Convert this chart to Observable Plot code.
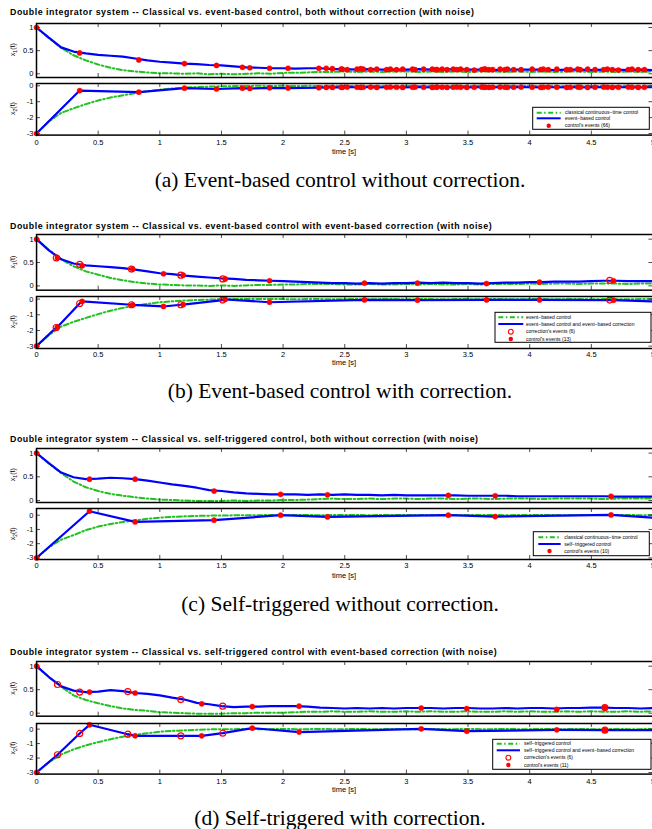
<!DOCTYPE html>
<html><head><meta charset="utf-8">
<script src="https://cdn.jsdelivr.net/npm/d3@7"></script>
<script src="https://cdn.jsdelivr.net/npm/@observablehq/plot@0.6"></script>
<style>
html,body{margin:0;padding:0;background:#fff;overflow:hidden;}
#fig{position:relative;width:652px;height:829px;overflow:hidden;background:#fff;}
</style></head>
<body><div id="fig"></div>
<script>
// ---------------- shared ----------------
const T = [0,0.1,0.2,0.3,0.4,0.5,0.6,0.7,0.8,0.9,1,1.1,1.2,1.3,1.4,1.5,1.6,1.7,1.8,1.9,2,2.1,2.2,2.3,2.4,2.5,2.6,2.7,2.8,2.9,3,3.1,3.2,3.3,3.4,3.5,3.6,3.7,3.8,3.9,4,4.1,4.2,4.3,4.4,4.5,4.6,4.7,4.8,4.9,5];
const xTicks = [0,0.5,1,1.5,2,2.5,3,3.5,4,4.5,5];
const x1Ticks = [0,0.5,1];
const x2Ticks = [-3,-2,-1,0];
const xAxisLabel = "time [s]";

// ---------------- (a) ----------------
const aTitle = "Double integrator system -- Classical vs. event-based control, both without correction (with noise)";
const aCaption = "(a) Event-based control without correction.";
const aLegend = ["classical continuous\u2212time control","event\u2212based control","control's events (66)"];
const aX1Classic = [1.00,0.77,0.56,0.40,0.29,0.20,0.13,0.08,0.05,0.03, 0.01,0.01,0.00,0.01,-0.01,0.00,-0.01,0.00,0.01,0.00, 0.02,0.02,0.03,0.04,0.04,0.05,0.04,0.05,0.04,0.05, 0.05,0.04,0.05,0.04,0.05,0.04,0.05,0.05,0.04,0.05, 0.04,0.05,0.04,0.05,0.05,0.04,0.05,0.04,0.05,0.04, 0.05];
const aX1Event = [1.00,0.78,0.57,0.48,0.44,0.41,0.39,0.37,0.33,0.29, 0.26,0.24,0.22,0.21,0.19,0.18,0.16,0.14,0.13,0.12, 0.12,0.11,0.12,0.12,0.10,0.10,0.09,0.10,0.09,0.09, 0.09,0.10,0.09,0.09,0.10,0.09,0.09,0.08,0.09,0.09, 0.09,0.09,0.08,0.09,0.09,0.08,0.09,0.09,0.08,0.09, 0.08];
const aX2Classic = [-3.00,-2.25,-1.70,-1.42,-1.15,-0.92,-0.74,-0.60,-0.47,-0.35, -0.25,-0.17,-0.12,-0.08,-0.05,-0.03,-0.02,-0.01,0.00,-0.01, 0.00,-0.01,0.00,-0.01,0.00,-0.01,0.00,-0.01,0.00,-0.01, 0.00,-0.01,0.00,-0.01,0.00,-0.01,0.00,-0.01,0.00,-0.01, 0.00,-0.01,0.00,-0.01,0.00,-0.01,0.00,-0.01,0.00,-0.01, 0.00];
const aEvT = [0,0.35,0.83,1.2,1.46,1.67,1.73,1.89,2.04,2.29,2.35, 2.40,2.47,2.48,2.52,2.60,2.63,2.65,2.71,2.76,2.84, 2.87,2.92,2.97,3.05,3.07,3.14,3.21,3.24,3.25,3.29, 3.33,3.38,3.41,3.44,3.49,3.55,3.61,3.63,3.64,3.67, 3.70,3.76,3.80,3.82,3.87,3.93,4.02,4.09,4.11,4.15, 4.22,4.30,4.33,4.39,4.41,4.47,4.53,4.60,4.63,4.67, 4.72,4.80,4.83,4.88,4.93];
const aEvX1 = [1.00,0.45,0.30,0.22,0.18,0.14,0.13,0.12,0.12,0.12,0.12, 0.11,0.10,0.10,0.09,0.10,0.11,0.10,0.09,0.10,0.09, 0.10,0.09,0.10,0.10,0.09,0.10,0.10,0.09,0.09,0.10, 0.09,0.10,0.09,0.10,0.09,0.08,0.09,0.10,0.10,0.09, 0.09,0.10,0.09,0.10,0.09,0.09,0.10,0.09,0.10,0.09, 0.10,0.09,0.09,0.10,0.09,0.10,0.09,0.09,0.10,0.09, 0.08,0.09,0.10,0.09,0.09];
const aEvX2 = [-3.00,-0.30,-0.40,-0.15,-0.20,-0.15,-0.17,-0.13,-0.14,-0.12,-0.10, -0.10,-0.09,-0.10,-0.08,-0.09,-0.10,-0.09,-0.08,-0.10,-0.09, -0.08,-0.09,-0.10,-0.09,-0.08,-0.09,-0.10,-0.09,-0.08,-0.09, -0.10,-0.09,-0.08,-0.09,-0.10,-0.09,-0.08,-0.09,-0.09,-0.10, -0.09,-0.08,-0.09,-0.10,-0.09,-0.08,-0.09,-0.10,-0.09,-0.08, -0.09,-0.10,-0.09,-0.08,-0.09,-0.10,-0.09,-0.08,-0.09,-0.10, -0.09,-0.08,-0.09,-0.10,-0.09];
const aX2Final = -0.09;

// ---------------- (b) ----------------
const bTitle = "Double integrator system -- Classical vs. event-based control with event-based correction (with noise)";
const bCaption = "(b) Event-based control with correction.";
const bLegend = ["event\u2212based control","event\u2212based control and event\u2212based correction","correction's events (6)","control's events (13)"];
const bX1Base = [1.00,0.77,0.57,0.42,0.31,0.24,0.17,0.12,0.08,0.05, 0.03,0.02,0.01,0.01,0.00,0.01,0.00,0.01,0.02,0.02, 0.03,0.03,0.04,0.04,0.04,0.03,0.03,0.04,0.03,0.03, 0.04,0.03,0.04,0.03,0.03,0.04,0.03,0.04,0.04,0.04, 0.05,0.04,0.05,0.05,0.04,0.05,0.05,0.05,0.04,0.05, 0.05];
const bX1Corr = [1.00,0.76,0.57,0.48,0.44,0.42,0.40,0.38,0.35,0.31, 0.27,0.25,0.22,0.20,0.18,0.16,0.15,0.13,0.12,0.11, 0.10,0.09,0.08,0.07,0.06,0.06,0.05,0.06,0.05,0.06, 0.06,0.07,0.06,0.07,0.06,0.06,0.05,0.06,0.07,0.07, 0.08,0.08,0.09,0.09,0.09,0.10,0.11,0.11,0.10,0.10, 0.10];
const bX2Base = [-3.00,-2.30,-1.75,-1.45,-1.20,-0.96,-0.74,-0.56,-0.42,-0.30, -0.20,-0.14,-0.09,-0.06,-0.03,-0.01,0.00,0.00,0.01,0.00, 0.00,-0.01,0.00,0.00,-0.01,0.00,0.00,-0.01,0.00,0.00, -0.01,0.00,0.00,-0.01,0.00,0.00,-0.01,0.00,0.00,-0.01, 0.00,0.00,-0.01,0.00,0.00,-0.01,0.00,0.00,-0.01,0.00, 0.00];
const bCorrT = [0.16,0.35,0.77,1.17,1.51,4.65];
const bCorrX1 = [0.60,0.46,0.36,0.23,0.15,0.12];
const bCorrX2 = [-1.81,-0.28,-0.36,-0.36,-0.06,-0.06];
const bCtrlT = [0,0.17,0.37,0.78,1.03,1.19,1.53,1.89,2.66,3.09,3.65,4.08,4.68];
const bCtrlX1 = [1.00,0.60,0.43,0.36,0.26,0.23,0.15,0.11,0.06,0.06,0.05,0.08,0.11];
const bCtrlX2 = [-3.00,-1.78,-0.15,-0.37,-0.47,-0.35,-0.02,-0.20,-0.05,-0.07,-0.05,-0.05,-0.07];
const bX2Final = -0.15;

// ---------------- (c) ----------------
const cTitle = "Double integrator system -- Classical vs. self-triggered control, both without correction (with noise)";
const cCaption = "(c) Self-triggered without correction.";
const cLegend = ["classical continuous\u2212time control","self\u2212triggered control","control's events (10)"];
const cX1Classic = [1.00,0.78,0.58,0.40,0.28,0.20,0.14,0.10,0.07,0.04, 0.02,0.01,0.00,-0.01,-0.01,-0.01,0.00,-0.01,0.00,0.00, 0.01,0.01,0.02,0.03,0.04,0.03,0.03,0.04,0.03,0.04, 0.04,0.03,0.04,0.04,0.03,0.04,0.04,0.03,0.04,0.04, 0.04,0.03,0.04,0.04,0.04,0.04,0.03,0.04,0.04,0.04, 0.04];
const cX1Self = [1.00,0.79,0.59,0.49,0.45,0.46,0.48,0.47,0.45,0.42, 0.38,0.34,0.31,0.27,0.22,0.20,0.17,0.15,0.14,0.13, 0.13,0.13,0.12,0.13,0.12,0.13,0.12,0.12,0.11,0.12, 0.11,0.11,0.11,0.11,0.11,0.10,0.10,0.10,0.10,0.09, 0.09,0.09,0.09,0.09,0.09,0.09,0.09,0.08,0.08,0.08, 0.08];
const cX2Classic = [-3.00,-2.25,-1.72,-1.40,-1.05,-0.80,-0.62,-0.48,-0.36,-0.25, -0.17,-0.12,-0.08,-0.05,-0.03,-0.02,-0.01,0.00,0.00,0.01, 0.00,0.01,0.01,0.00,0.01,0.02,0.01,0.00,0.01,0.01, 0.02,0.01,0.00,0.01,0.01,0.02,0.01,0.01,0.00,0.01, 0.01,0.02,0.01,0.00,0.01,0.01,0.02,0.01,0.01,0.00, 0.01];
const cEvT = [0,0.43,0.80,1.44,1.98,2.36,3.34,3.72,4.66];
const cEvX1 = [1.00,0.45,0.45,0.20,0.13,0.12,0.11,0.10,0.09];
const cEvX2 = [-3.00,0.28,-0.47,-0.35,0.00,-0.12,0.00,-0.10,0.02];
const cX2Final = -0.17;

// ---------------- (d) ----------------
const dTitle = "Double integrator system -- Classical vs. self-triggered control with event-based correction (with noise)";
const dCaption = "(d) Self-triggered with correction.";
const dLegend = ["self\u2212triggered control","self\u2212triggered control and event\u2212based correction","correction's events (6)","control's events (11)"];
const dX1Base = [1.00,0.77,0.56,0.38,0.28,0.21,0.15,0.10,0.07,0.05, 0.02,0.01,0.00,-0.01,-0.01,-0.01,0.00,0.00,0.01,0.01, 0.01,0.02,0.03,0.03,0.04,0.03,0.03,0.04,0.03,0.03, 0.04,0.03,0.04,0.03,0.03,0.04,0.03,0.03,0.04,0.03, 0.04,0.03,0.03,0.04,0.03,0.04,0.03,0.03,0.04,0.03, 0.04];
const dX1Corr = [1.00,0.77,0.57,0.48,0.45,0.46,0.49,0.47,0.43,0.41, 0.38,0.33,0.29,0.22,0.19,0.15,0.13,0.14,0.14,0.15, 0.15,0.15,0.14,0.12,0.11,0.10,0.11,0.10,0.11,0.10, 0.11,0.11,0.11,0.10,0.11,0.11,0.10,0.10,0.11,0.10, 0.11,0.11,0.10,0.11,0.11,0.12,0.12,0.11,0.11,0.10, 0.11];
const dX2Base = [-3.00,-2.30,-1.75,-1.40,-1.12,-0.90,-0.70,-0.52,-0.39,-0.28, -0.18,-0.12,-0.08,-0.05,-0.02,0.00,0.00,0.01,0.00,0.00, 0.01,0.00,0.00,0.01,0.00,0.00,0.01,0.00,0.00,0.01, 0.00,0.00,0.01,0.00,0.00,0.01,0.00,0.00,0.01,0.00, 0.00,0.01,0.00,0.00,0.01,0.00,0.00,0.01,0.00,0.00, 0.01];
const dCorrT = [0.17,0.35,0.74,1.17,1.51,4.61];
const dCorrX1 = [0.61,0.45,0.46,0.29,0.15,0.12];
const dCorrX2 = [-1.77,-0.30,-0.35,-0.46,-0.28,-0.07];
const dCtrlT = [0,0.43,0.80,1.34,1.75,2.13,3.12,3.49,4.22,4.61];
const dCtrlX1 = [1.00,0.45,0.43,0.20,0.14,0.15,0.11,0.10,0.08,0.12];
const dCtrlX2 = [-3.00,0.30,-0.46,-0.46,0.07,-0.20,0.02,-0.14,-0.05,-0.07];
const dX2Final = -0.07;

// ---------------- styles & layout ----------------
const GREEN = "#1fc21f", BLUE = "#0000ff", RED = "#ff0000";
const DASH = "5,2.5,1.5,2.5";
const FW = 660, ML = 36, MR = 7.5;
const SANS = "'Liberation Sans', Arial, Helvetica, sans-serif";
const SERIF = "'Liberation Serif', 'Times New Roman', serif";

const layouts = [
  {title: 15.3, tw: 464, top: [22.7, 76.7], bot: [82.7, 134.3], d1: [-0.08, 1.086], d2: [-3.1, 0.145], pad: 4.8, timeBase: 154, cap: 187.3,
   leg: {x: 532.7, y: 107.3, w: 116.6, h: 22, rows: [5.4, 11, 18.4], s0: 4, s1: 28, tx: 32.3}},
  {title: 229, tw: 481.7, top: [234.3, 290], bot: [295.7, 347.7], d1: [-0.092, 1.1], d2: [-3.15, 0.166], pad: 3.0, timeBase: 365, cap: 397.5,
   leg: {x: 495, y: 312.3, w: 156, h: 30, rows: [5, 11.7, 19.4, 26.7], s0: 3.3, s1: 28.3, tx: 31}},
  {title: 441.7, tw: 468, top: [447.7, 501.7], bot: [508.3, 559.3], d1: [-0.042, 1.097], d2: [-3.11, 0.47], pad: 3.1, timeBase: 578.3, cap: 610.7,
   leg: {x: 533.3, y: 531.7, w: 116, h: 24, rows: [5.6, 12.3, 19.3], s0: 5, s1: 27.4, tx: 31}},
  {title: 655, tw: 486.7, top: [661, 715.7], bot: [722.7, 773.3], d1: [-0.064, 1.1], d2: [-3.11, 0.39], pad: 4.8, timeBase: 791.7, cap: 825,
   leg: {x: 492.7, y: 739.3, w: 158.3, h: 30, rows: [4.4, 11, 18.4, 25.7], s0: 4, s1: 27.3, tx: 31.3}}
];

// ---------------- helpers ----------------
function pts(t, v) { return t.map((d, i) => ({t: d, v: v[i]})); }
function joinEvents(sets, finalV) {
  const all = [];
  for (const [t, v] of sets) t.forEach((d, i) => all.push({t: d, v: v[i]}));
  all.sort((a, b) => a.t - b.t);
  all.push({t: 5, v: finalV});
  return all;
}

const panels = [
  {title: aTitle, caption: aCaption, legend: aLegend, kinds: ["green", "blue", "dot"],
   g1: pts(T, aX1Classic), b1: pts(T, aX1Event), g2: pts(T, aX2Classic), b2: joinEvents([[aEvT, aEvX2]], aX2Final),
   dots1: pts(aEvT, aEvX1), dots2: pts(aEvT, aEvX2), rings1: [], rings2: []},
  {title: bTitle, caption: bCaption, legend: bLegend, kinds: ["green", "blue", "ring", "dot"],
   g1: pts(T, bX1Base), b1: pts(T, bX1Corr), g2: pts(T, bX2Base), b2: joinEvents([[bCorrT, bCorrX2], [bCtrlT, bCtrlX2]], bX2Final),
   dots1: pts(bCtrlT, bCtrlX1), dots2: pts(bCtrlT, bCtrlX2), rings1: pts(bCorrT, bCorrX1), rings2: pts(bCorrT, bCorrX2)},
  {title: cTitle, caption: cCaption, legend: cLegend, kinds: ["green", "blue", "dot"],
   g1: pts(T, cX1Classic), b1: pts(T, cX1Self), g2: pts(T, cX2Classic), b2: joinEvents([[cEvT, cEvX2]], cX2Final),
   dots1: pts(cEvT, cEvX1), dots2: pts(cEvT, cEvX2), rings1: [], rings2: []},
  {title: dTitle, caption: dCaption, legend: dLegend, kinds: ["green", "blue", "ring", "dot"],
   g1: pts(T, dX1Base), b1: pts(T, dX1Corr), g2: pts(T, dX2Base), b2: joinEvents([[dCorrT, dCorrX2], [dCtrlT, dCtrlX2]], dX2Final),
   dots1: pts(dCtrlT, dCtrlX1), dots2: pts(dCtrlT, dCtrlX2), rings1: pts(dCorrT, dCorrX1), rings2: pts(dCorrT, dCorrX2)}
];

const fig = document.getElementById("fig");

function subplot({top, bottom, domain, yTicks, xAxis, pad, green, blue, dots, rings}) {
  const H = bottom - top;
  const W = FW - ML - MR;
  const MB = xAxis ? 26 : 0;
  const svg = Plot.plot({
    width: FW, height: H + MB,
    marginLeft: ML, marginRight: MR, marginTop: 0, marginBottom: MB,
    style: {maxWidth: "none", overflow: "visible", background: "transparent", fontFamily: SANS, fontSize: "7.5px", color: "black"},
    x: {domain: [0, 5], ticks: xTicks, tickSize: 0, tickPadding: pad, tickFormat: d => String(d), label: null, axis: xAxis ? "bottom" : null},
    y: {domain, ticks: yTicks, tickSize: 0, tickPadding: 3, tickFormat: d => String(d), label: null},
    marks: [
      Plot.line(green, {x: "t", y: "v", stroke: GREEN, strokeWidth: 2, strokeDasharray: DASH, clip: true}),
      Plot.line(blue, {x: "t", y: "v", stroke: BLUE, strokeWidth: 2.2, clip: true}),
      Plot.tickX(xTicks, {x: d => d, insetTop: H - 4, stroke: "#222", strokeWidth: 0.8}),
      Plot.tickX(xTicks, {x: d => d, insetBottom: H - 4, stroke: "#222", strokeWidth: 0.8}),
      Plot.tickY(yTicks, {y: d => d, insetRight: W - 4, stroke: "#222", strokeWidth: 0.8}),
      Plot.tickY(yTicks, {y: d => d, insetLeft: W - 4, stroke: "#222", strokeWidth: 0.8}),
      Plot.dot(rings, {x: "t", y: "v", r: 3, stroke: RED, strokeWidth: 1.2, fill: "none"}),
      Plot.dot(dots, {x: "t", y: "v", r: 2.6, fill: RED, stroke: RED, strokeWidth: 0.4}),
      Plot.frame({stroke: "black", strokeWidth: 1.5})
    ]
  });
  svg.style.position = "absolute";
  svg.style.left = "0px";
  svg.style.top = top + "px";
  fig.appendChild(svg);
}

panels.forEach((p, i) => {
  const L = layouts[i];
  subplot({top: L.top[0], bottom: L.top[1], domain: L.d1, yTicks: x1Ticks, xAxis: false, pad: 0,
           green: p.g1, blue: p.b1, dots: p.dots1, rings: p.rings1});
  subplot({top: L.bot[0], bottom: L.bot[1], domain: L.d2, yTicks: x2Ticks, xAxis: true, pad: L.pad,
           green: p.g2, blue: p.b2, dots: p.dots2, rings: p.rings2});
});

// ---------------- overlay texts & legends ----------------
const ov = d3.select(fig).append("svg")
  .attr("width", 652).attr("height", 829)
  .style("position", "absolute").style("left", "0px").style("top", "0px")
  .style("overflow", "visible");

function ylabel(cx, cy, sub) {
  const t = ov.append("text")
    .attr("transform", `translate(${cx},${cy}) rotate(-90)`)
    .attr("text-anchor", "middle")
    .attr("font-family", SANS).attr("font-size", 7).attr("fill", "#000");
  t.append("tspan").text("x");
  t.append("tspan").attr("font-size", 5).attr("dy", 1.8).text(sub);
  t.append("tspan").attr("dy", -1.8).text("(t)");
}

panels.forEach((p, i) => {
  const L = layouts[i];
  ov.append("text").attr("x", 10).attr("y", L.title)
    .attr("font-family", SANS).attr("font-weight", "bold").attr("font-size", 8.8)
    .attr("textLength", L.tw).attr("lengthAdjust", "spacing")
    .attr("fill", "#000").text(p.title);
  ylabel(15, (L.top[0] + L.top[1]) / 2, "1");
  ylabel(15, (L.bot[0] + L.bot[1]) / 2, "2");
  ov.append("text").attr("x", 344).attr("y", L.timeBase).attr("text-anchor", "middle")
    .attr("font-family", SANS).attr("font-size", 7.5).attr("fill", "#000").text(xAxisLabel);
  ov.append("text").attr("x", 340).attr("y", L.cap).attr("text-anchor", "middle")
    .attr("font-family", SERIF).attr("font-size", 21.5).attr("fill", "#000").text(p.caption);

  // legend
  const g = ov.append("g").attr("transform", `translate(${L.leg.x},${L.leg.y})`);
  g.append("rect").attr("width", L.leg.w).attr("height", L.leg.h)
    .attr("fill", "#fff").attr("stroke", "#000").attr("stroke-width", 1);
  p.kinds.forEach((k, j) => {
    const yy = L.leg.rows[j];
    const xm = (L.leg.s0 + L.leg.s1) / 2;
    if (k === "green") {
      g.append("line").attr("x1", L.leg.s0).attr("x2", L.leg.s1).attr("y1", yy).attr("y2", yy)
        .attr("stroke", GREEN).attr("stroke-width", 2).attr("stroke-dasharray", DASH);
    } else if (k === "blue") {
      g.append("line").attr("x1", L.leg.s0).attr("x2", L.leg.s1).attr("y1", yy).attr("y2", yy)
        .attr("stroke", BLUE).attr("stroke-width", 2);
    } else if (k === "ring") {
      g.append("circle").attr("cx", xm).attr("cy", yy).attr("r", 2.4)
        .attr("fill", "none").attr("stroke", RED).attr("stroke-width", 1.1);
    } else {
      g.append("circle").attr("cx", xm).attr("cy", yy).attr("r", 2.2).attr("fill", RED);
    }
    g.append("text").attr("x", L.leg.tx).attr("y", yy + 1.8)
      .attr("font-family", SANS).attr("font-size", 5).attr("fill", "#000").text(p.legend[j]);
  });
});
</script>
</body></html>
